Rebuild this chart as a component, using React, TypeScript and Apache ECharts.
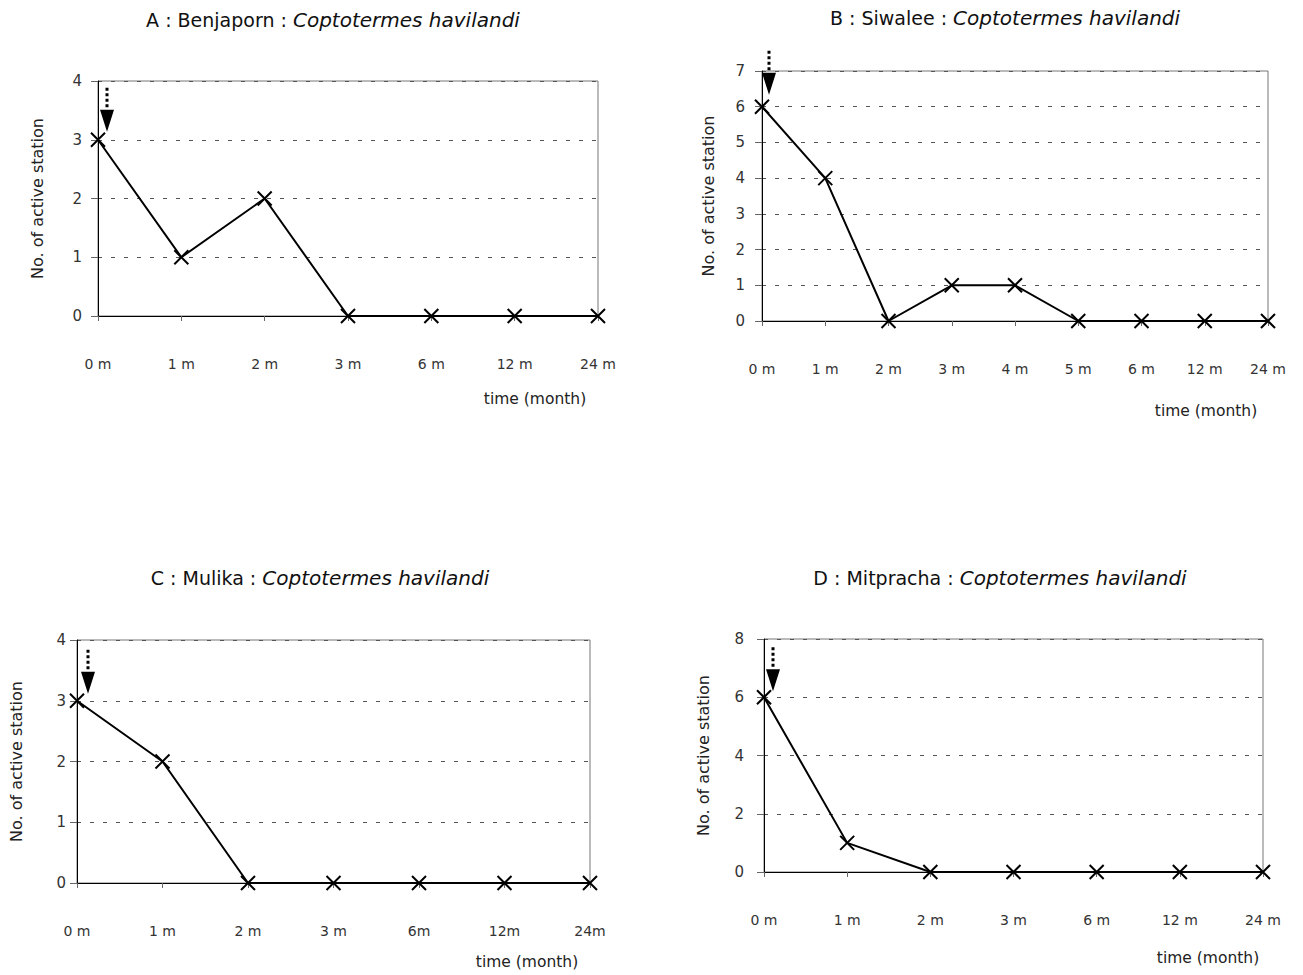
import React, { useEffect, useRef } from "react";
import * as echarts from "echarts";

// ---- data ----
const catsA = ["0 m", "1 m", "2 m", "3 m", "6 m", "12 m", "24 m"];
const valsA = [3, 1, 2, 0, 0, 0, 0];
const catsB = ["0 m", "1 m", "2 m", "3 m", "4 m", "5 m", "6 m", "12 m", "24 m"];
const valsB = [6, 4, 0, 1, 1, 0, 0, 0, 0];
const catsC = ["0 m", "1 m", "2 m", "3 m", "6m", "12m", "24m"];
const valsC = [3, 2, 0, 0, 0, 0, 0];
const catsD = ["0 m", "1 m", "2 m", "3 m", "6 m", "12 m", "24 m"];
const valsD = [6, 1, 0, 0, 0, 0, 0];
const yMaxes = [4, 7, 4, 8];
const yIntervals = [1, 1, 1, 2];
const titleSites = ["A : Benjaporn : ", "B : Siwalee : ", "C : Mulika : ", "D : Mitpracha : "];
const speciesName = "Coptotermes havilandi";
const yName = "No. of active station";
const xName = "time (month)";

const FONT = "'DejaVu Sans', 'Liberation Sans', Arial, sans-serif";

const grids = [
  { left: 98, top: 81, width: 500, height: 235 },
  { left: 762, top: 71, width: 506, height: 250 },
  { left: 77, top: 640, width: 513, height: 243 },
  { left: 764, top: 639, width: 499, height: 233 },
];
const titlePos = [
  [333, 20],
  [1005, 18],
  [320, 578],
  [1000, 578],
];
const xNamePos = [
  [535, 399],
  [1206, 411],
  [527, 962],
  [1208, 958],
];
const yNameGaps = [53, 46, 53, 53];
const yLabelMargins = [16, 17, 11, 20];
// arrow: [xOffset, yOffset]
const arrowOffsets = [
  [9, -30],
  [7, -34],
  [11, -29],
  [9, -28],
];

const ARROW =
  "path://M5.5,0L8.5,0L8.5,3L5.5,3ZM5.5,5.5L8.5,5.5L8.5,8.5L5.5,8.5ZM5.5,11L8.5,11L8.5,14L5.5,14ZM5.5,16.5L8.5,16.5L8.5,19.5L5.5,19.5ZM0,22L14,22L7,44Z";
const CROSS = "path://M0,0L10,10M10,0L0,10";

export default function App() {
  const ref = useRef<HTMLDivElement>(null);
  useEffect(() => {
    if (!ref.current) return;
    const chart = echarts.init(ref.current, null, { renderer: "svg" });
    const cats = [catsA, catsB, catsC, catsD];
    const vals = [valsA, valsB, valsC, valsD];

    const option: any = {
      animation: false,
      backgroundColor: "#fff",
      grid: grids.map((g) => ({
        ...g,
        show: true,
        borderColor: "#777",
        borderWidth: 1,
        backgroundColor: "transparent",
      })),
      xAxis: cats.map((c, i) => ({
        type: "category",
        gridIndex: i,
        data: c,
        boundaryGap: false,
        axisLine: { show: true, lineStyle: { color: "#000", width: 1 } },
        axisTick: { show: true, length: 5, alignWithLabel: true, lineStyle: { color: "#666" } },
        axisLabel: { margin: 41, fontFamily: FONT, fontSize: 14, color: "#333" },
        splitLine: { show: false },
      })),
      yAxis: yMaxes.map((m, i) => ({
        type: "value",
        gridIndex: i,
        min: 0,
        max: m,
        interval: yIntervals[i],
        name: yName,
        nameLocation: "middle",
        nameRotate: 90,
        nameGap: yNameGaps[i],
        nameTextStyle: { fontFamily: FONT, fontSize: 16, color: "#222" },
        axisLine: { show: true, lineStyle: { color: "#000", width: 1 } },
        axisTick: { show: true, length: 7, lineStyle: { color: "#666" } },
        axisLabel: { margin: yLabelMargins[i], fontFamily: FONT, fontSize: 15, color: "#333" },
        splitLine: { show: true, lineStyle: { color: "#555", width: 1, type: [4, 9] } },
      })),
      series: vals.map((v, i) => ({
        type: "line",
        xAxisIndex: i,
        yAxisIndex: i,
        data: v,
        symbol: CROSS,
        symbolSize: 14,
        showSymbol: true,
        lineStyle: { color: "#000", width: 2 },
        itemStyle: { color: "transparent", borderColor: "#000", borderWidth: 2 },
        markPoint: {
          symbol: ARROW,
          symbolSize: [14, 44],
          symbolOffset: arrowOffsets[i],
          itemStyle: { color: "#000" },
          label: { show: false },
          data: [{ coord: [0, v[0]] }],
        },
        z: 5,
      })),
      graphic: [
        ...titlePos.map((p, i) => ({
          type: "text",
          x: p[0],
          y: p[1],
          style: {
            text: "{n|" + titleSites[i] + "}{i|" + speciesName + "}",
            font: `19px ${FONT}`,
            fill: "#111",
            textAlign: "center",
            textVerticalAlign: "middle",
            rich: {
              n: { fontSize: 19, fontFamily: FONT, fill: "#111" },
              i: { fontStyle: "italic", fontSize: 20, fontFamily: FONT, fill: "#111" },
            },
          },
        })),
        ...xNamePos.map((p) => ({
          type: "text",
          x: p[0],
          y: p[1],
          style: {
            text: xName,
            font: `15.5px ${FONT}`,
            fill: "#222",
            textAlign: "center",
            textVerticalAlign: "middle",
          },
        })),
      ],
    };
    chart.setOption(option);
    return () => chart.dispose();
  }, []);
  return (
    <div
      ref={ref}
      style={{ position: "fixed", left: 0, top: 0, width: 1303, height: 975, background: "#fff" }}
    />
  );
}
